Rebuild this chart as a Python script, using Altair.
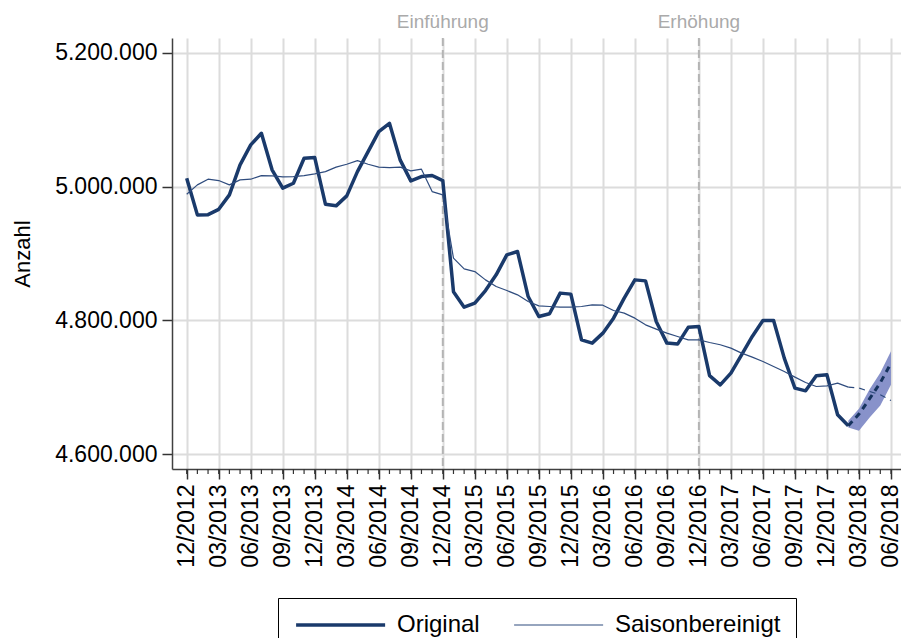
import altair as alt
import pandas as pd

# month index 0 = 12/2012
orig = [5012500, 4957700, 4958000, 4966000, 4987600, 5032400, 5062300, 5079700, 5025000,
        4997600, 5005000, 5042400, 5043300, 4973700, 4971200, 4986100, 5022400, 5052300,
        5082200, 5094600, 5039900, 5008500, 5015000, 5016500, 5009000, 4843000, 4819800,
        4825800, 4844700, 4868100, 4898000, 4903000, 4835700, 4805800, 4809900, 4840800,
        4839300, 4771000, 4766100, 4781000, 4803400, 4833300, 4860600, 4859100, 4798400,
        4766100, 4764600, 4789700, 4790900, 4717500, 4703800, 4721300, 4748600, 4776000,
        4799900, 4799900, 4743700, 4698900, 4694800, 4717300, 4718700, 4659000, 4642600]
sa = [4988600, 5002500, 5011000, 5009000, 5002500, 5010000, 5011000, 5016400, 5016000,
      5014500, 5015000, 5016400, 5019000, 5022400, 5029000, 5033400, 5038800, 5033400,
      5029000, 5028400, 5029000, 5023400, 5026000, 4992500, 4987600, 4893000, 4877000,
      4873000, 4860600, 4850600, 4844700, 4838200, 4828200, 4821800, 4820800, 4819800,
      4819800, 4820800, 4823300, 4822800, 4814800, 4810900, 4803400, 4793400, 4787000,
      4781000, 4776000, 4771000, 4771000, 4767000, 4763600, 4758600, 4751200, 4745200,
      4738600, 4731200, 4723700, 4715300, 4707300, 4701300, 4702300, 4706300, 4700300]

fc_months = [62, 63, 64, 65, 66]
orig_fc = [4642600, 4660000, 4683000, 4707000, 4736000]
sa_fc = [4700300, 4698900, 4693800, 4688900, 4680400]
band_lo = [4640000, 4635000, 4655000, 4673000, 4704000]
band_hi = [4650000, 4668000, 4697000, 4722000, 4754000]

event_months = [24, 48]
event_labels = ["Einführung", "Erhöhung"]

series_names = ["Original", "Saisonbereinigt"]
y_ticks = [4600000, 4800000, 5000000, 5200000]
x_ticks = list(range(0, 67, 3))
all_months = list(range(0, 67))

NAVY = "#1a3a6b"
FONT = "Liberation Sans"

n = len(orig)
df = pd.DataFrame({
    "m": list(range(n)) * 2,
    "value": orig + sa,
    "series": [series_names[0]] * n + [series_names[1]] * n,
})
df_fc = pd.DataFrame({"m": fc_months, "orig": orig_fc, "sa": sa_fc, "lo": band_lo, "hi": band_hi})
df_ev = pd.DataFrame({"m": event_months, "label": event_labels})
df_minor = pd.DataFrame({"m": all_months})

x_label_expr = ("(((datum.value+11)%12+1)<10?'0':'') + ((datum.value+11)%12+1) + '/' + "
                "(2012+floor((datum.value+11)/12))")

x_enc = alt.X(
    "m:Q",
    scale=alt.Scale(domain=[-1.378, 66.94], nice=False, zero=False),
    axis=alt.Axis(values=x_ticks, labelExpr=x_label_expr, labelAngle=270,
                  labelFontSize=23, labelColor="black", labelPadding=5,
                  tickSize=10, tickColor="#333333", tickWidth=1.5,
                  domainColor="#404040", domainWidth=1.5,
                  grid=True, gridColor="#dcdcdc", gridWidth=2, title=None),
)
y_scale = alt.Scale(domain=[4578000, 5222000], nice=False, zero=False)
y_enc = alt.Y(
    "value:Q",
    scale=y_scale,
    axis=alt.Axis(values=y_ticks,
                  labelExpr="replace(format(datum.value, ','), regexp(',', 'g'), '.')",
                  labelFontSize=23, labelColor="black", labelPadding=5,
                  tickSize=10, tickColor="#333333", tickWidth=1.5,
                  domainColor="#404040", domainWidth=1.5,
                  grid=True, gridColor="#dcdcdc", gridWidth=2,
                  title="Anzahl", titleFontSize=22, titleFontWeight="normal",
                  titleColor="black", titlePadding=20),
)

legend = alt.Legend(title=None, orient="none", legendX=106, legendY=560,
                    direction="horizontal", symbolType="M-1,0L9,0",
                    symbolSize=317, labelFontSize=24, labelFont=FONT, labelLimit=400,
                    labelColor="black", labelOffset=80, columnPadding=31,
                    padding=15, strokeColor="black", fillColor="white")

band = alt.Chart(df_fc).mark_area(color="#7b86c4", opacity=0.9).encode(
    x=x_enc, y=alt.Y("lo:Q", scale=y_scale), y2="hi:Q"
)

events = alt.Chart(df_ev).mark_rule(color="#b4b4b4", strokeWidth=2, strokeDash=[8, 4]).encode(
    x=x_enc
)
event_text = alt.Chart(df_ev).mark_text(color="#aaaaaa", fontSize=19, font=FONT).encode(
    x=x_enc, y=alt.value(-16), text="label:N"
)

minor = alt.Chart(df_minor).mark_rule(color="#333333", strokeWidth=1.2).encode(
    x=x_enc, y=alt.value(431), y2=alt.value(436)
)

lines = alt.Chart(df).mark_line(strokeJoin="round").encode(
    x=x_enc,
    y=y_enc,
    color=alt.Color("series:N", scale=alt.Scale(domain=series_names, range=[NAVY, "#2f4c7e"]),
                    legend=legend),
    strokeWidth=alt.StrokeWidth("series:N", scale=alt.Scale(domain=series_names, range=[3.5, 1.2]),
                                legend=legend),
    detail="series:N",
)

fc_orig = alt.Chart(df_fc).mark_line(color="#16335e", strokeWidth=3, strokeDash=[6, 5]).encode(
    x=x_enc, y=alt.Y("orig:Q", scale=y_scale)
)
fc_sa = alt.Chart(df_fc).mark_line(color="#2c4a7c", strokeWidth=1.2, strokeDash=[6, 5]).encode(
    x=x_enc, y=alt.Y("sa:Q", scale=y_scale)
)

chart = alt.layer(band, events, event_text, minor, lines, fc_orig, fc_sa).properties(
    width=729, height=431,
    autosize=alt.AutoSizeParams(type="none"),
    padding={"left": 164, "top": 30, "right": 0, "bottom": 190},
).configure(font=FONT).configure_view(stroke=None).configure_axis(labelFont=FONT, titleFont=FONT)

chart.save("out.html", embed_options={"renderer": "svg", "actions": False})
